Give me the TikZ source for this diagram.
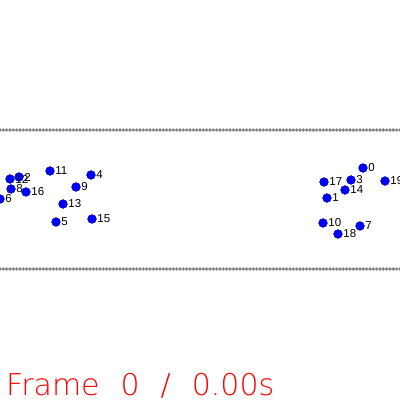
\documentclass[tikz,border=0pt]{standalone}
\usepackage{fontspec}
\setmainfont{Liberation Sans}
\newfontfamily\framefont{DejaVu Sans ExtraLight}
\usetikzlibrary{positioning}
\usepackage{xcolor}
\definecolor{partblue}{RGB}{0,0,255}
\definecolor{partedge}{RGB}{0,0,150}
\definecolor{wallgray}{RGB}{128,128,128}
\definecolor{framered}{RGB}{255,0,0}
\newcommand\stampfont{\framefont\fontsize{30}{30}\selectfont\spaceskip 21pt\relax}

\tikzset{
  particle/.style={circle, fill=partblue, draw=partedge, line width=0.4pt,
                   minimum size=8.8pt, inner sep=0pt},
  plabel/.style={inner sep=0pt, font=\fontsize{11.5}{11.5}\selectfont, text=black},
  wallbead/.style={fill=wallgray}
}

\begin{document}
\begin{tikzpicture}[x=1pt, y=-1pt]
\useasboundingbox (0,0) rectangle (400,400);
% channel walls
\foreach \i in {0,...,120} {
  \fill[wallbead] (\i*3.333,130) circle (1.8);
  \fill[wallbead] (\i*3.333,269) circle (1.8);
}
% particles
\foreach \n/\px/\py in {0/363/168, 1/327/198, 2/19/177, 3/351/180, 4/91/175,
    5/56/222, 6/0/199, 7/360/226, 8/11/189, 9/76/187, 10/323/223,
    11/50/171, 12/10/179, 13/63/204, 14/345/190, 15/92/219, 16/26/192,
    17/324/182, 18/338/234, 19/385/181}
  \node[particle] (p\n) at (\px,\py) {};
\foreach \n in {0,...,19}
  \node[plabel, right=0.6pt of p\n] (l\n) {\n};
% time stamp
\node[anchor=base west, inner sep=0pt, text=framered, font=\stampfont]
  (stamp) at (6,395) {Frame 0 / 0.00s};
\end{tikzpicture}
\end{document}
